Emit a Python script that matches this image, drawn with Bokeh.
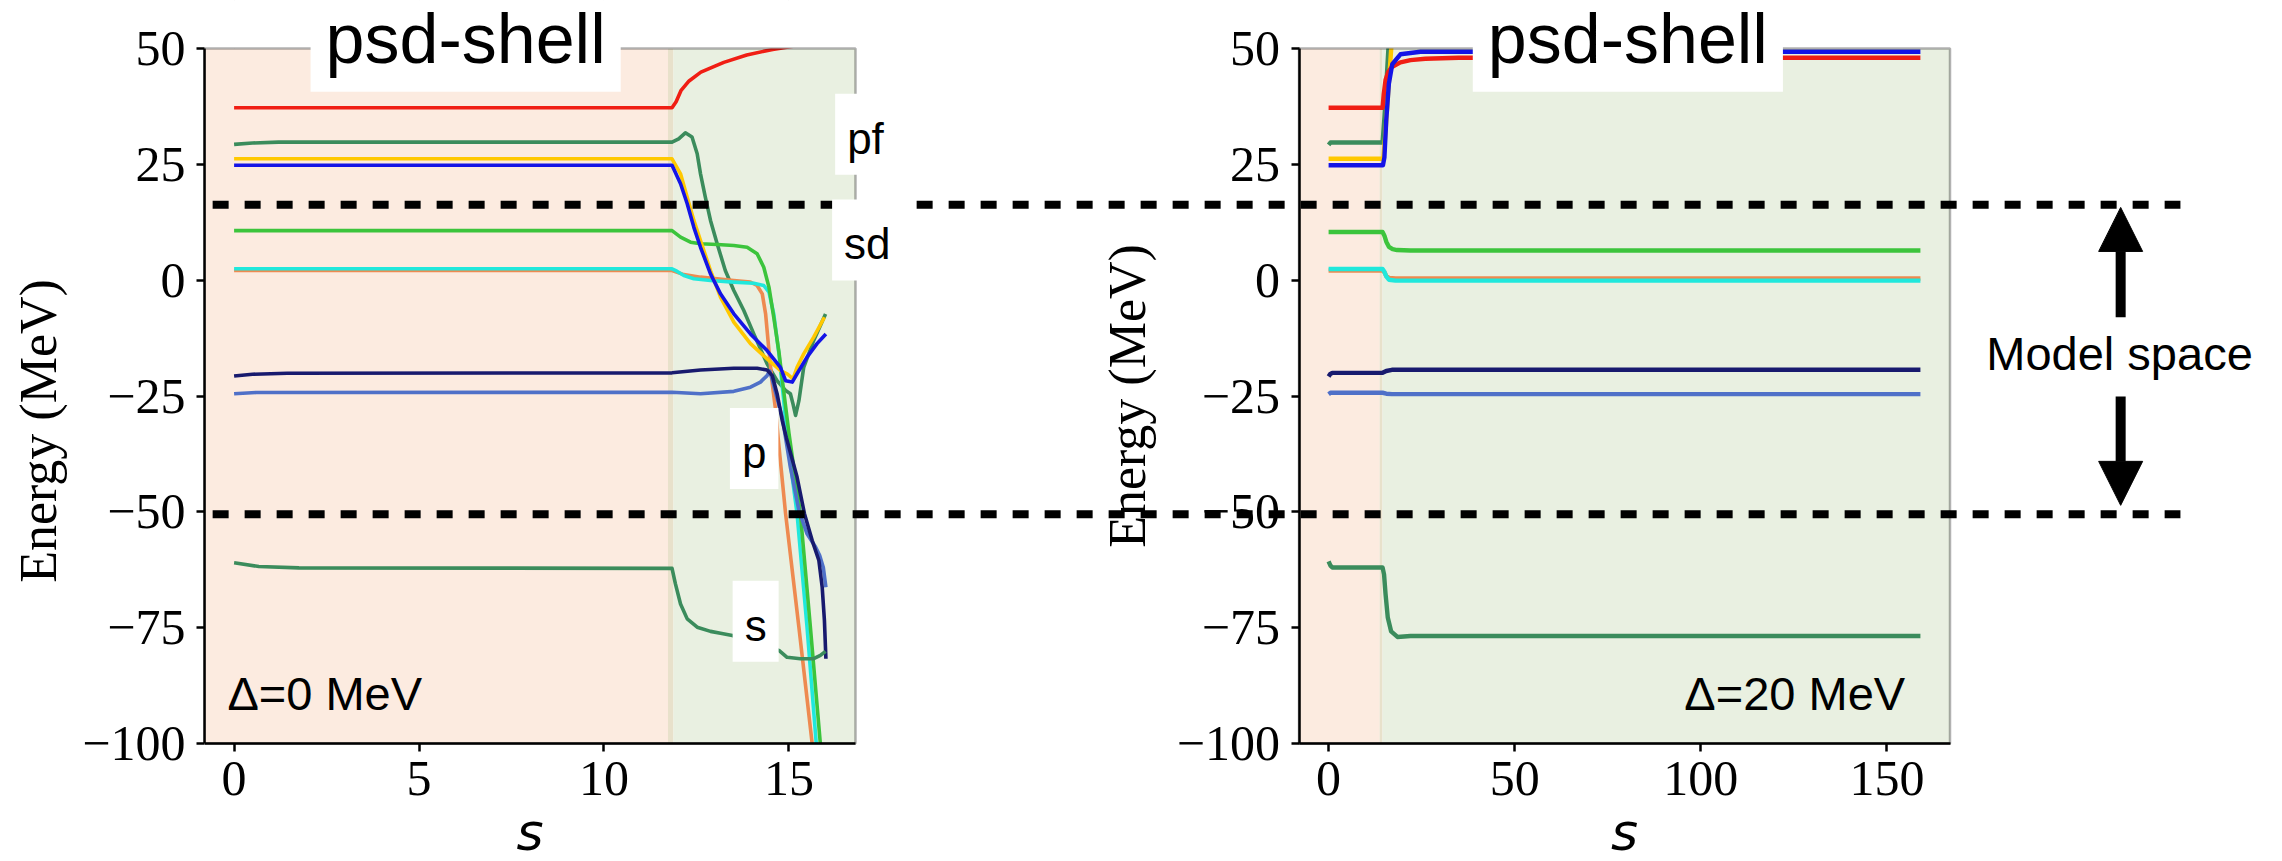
import numpy as np
from bokeh.plotting import figure
from bokeh.models import Range1d, LinearAxis, FixedTicker, BoxAnnotation, Label, Arrow, NormalHead
from bokeh.embed import file_html
from bokeh.resources import INLINE

# ---------------- data : left panel (Delta = 0 MeV) ----------------
L_red_s = [0, 11.84, 11.95, 12.08, 12.3, 12.62, 13.0, 13.24, 13.86, 14.56, 15.2]
L_red_E = [37.2, 37.2, 38.5, 40.9, 43.0, 44.9, 46.2, 47.0, 48.6, 49.8, 50.6]

L_sg1_s = [0, 0.5, 1.2, 11.84, 12.02, 12.20, 12.38, 12.52, 12.61, 12.74, 12.88, 13.06, 13.28, 13.51,
           13.78, 14.05, 14.41, 14.68, 14.91, 15.04, 15.11, 15.18, 15.27, 15.40, 15.67, 15.99]
L_sg1_E = [29.3, 29.6, 29.8, 29.8, 30.5, 31.8, 30.9, 27.3, 22.95, 17.9, 12.9, 7.85, 2.08, -2.23,
           -6.55, -11.6, -18.06, -21.7, -23.8, -24.5, -26.7, -29.2, -26.0, -18.8, -13.0, -7.3]

L_gold_s = [0, 11.84, 12.07, 12.25, 12.43, 12.61, 12.88, 13.15, 13.51, 13.96, 14.41, 14.77, 14.95,
            15.11, 15.22, 15.40, 15.67, 15.96]
L_gold_E = [26.2, 26.2, 22.95, 17.9, 12.9, 8.56, 2.08, -3.68, -9.07, -13.7, -16.97, -19.5, -20.2,
            -21.3, -18.8, -15.9, -12.3, -8.0]

L_blue_s = [0, 11.84, 12.07, 12.25, 12.43, 12.61, 12.88, 13.15, 13.51, 13.96, 14.41, 14.77, 14.91,
            15.09, 15.22, 15.49, 15.76, 16.0]
L_blue_E = [24.8, 24.8, 20.8, 16.5, 11.4, 7.1, 1.36, -2.95, -7.27, -11.6, -15.2, -18.8, -21.7,
            -22.0, -20.2, -16.6, -13.7, -11.6]

L_lime_s = [0, 11.84, 12.07, 12.34, 12.61, 13.06, 13.51, 13.87, 14.14, 14.32, 14.46, 14.59, 14.73,
            14.86, 15.0, 15.15, 15.31, 15.58, 15.85, 16.0]
L_lime_E = [10.7, 10.7, 9.3, 8.2, 7.85, 7.7, 7.48, 7.1, 5.7, 2.8, -1.5, -8.0, -15.5,
            -24.0, -33.0, -41.5, -50.4, -74.9, -100.1, -114.0]

L_cyan_s = [0, 11.84, 11.97, 12.16, 12.43, 12.88, 13.51, 14.05, 14.32, 14.46, 14.59, 14.73, 14.86,
            14.95, 15.22, 15.49, 15.74, 16.0]
L_cyan_E = [2.45, 2.45, 1.94, 1.0, 0.29, -0.07, -0.43, -0.65, -1.15, -2.6, -7.3, -15.9, -26.0,
            -34.0, -50.4, -74.9, -100.1, -124.0]

L_orng_s = [0, 11.84, 12.16, 12.61, 13.51, 13.96, 14.14, 14.28, 14.37, 14.46, 14.55, 14.64, 14.72,
            14.91, 15.27, 15.63, 15.9]
L_orng_E = [2.1, 2.1, 1.2, 0.65, -0.07, -0.43, -1.15, -2.95, -7.3, -15.2, -22.4, -28.0, -35.0,
            -50.4, -74.9, -100.1, -119.0]

L_navy_s = [0, 0.5, 1.44, 11.84, 12.61, 13.51, 14.14, 14.41, 14.55, 14.68, 14.82, 14.93, 15.22,
            15.42, 15.63, 15.81, 15.9, 15.96, 16.0]
L_navy_E = [-20.7, -20.3, -20.1, -20.0, -19.4, -19.0, -19.0, -19.4, -20.6, -24.5, -30.3, -34.0,
            -42.5, -50.4, -56.2, -60.5, -66.3, -73.5, -81.7]

L_royal_s = [0, 0.6, 11.84, 12.61, 13.51, 13.96, 14.23, 14.41, 14.48, 14.55, 14.68, 14.82, 15.04,
             15.27, 15.49, 15.72, 15.83, 15.93, 16.0]
L_royal_E = [-24.5, -24.25, -24.2, -24.5, -24.0, -23.1, -22.0, -20.6, -19.6, -21.5, -25.5, -29.6,
             -40.4, -49.7, -54.75, -57.6, -59.4, -62.0, -66.3]

L_sg2_s = [0, 0.67, 1.75, 11.84, 11.93, 12.07, 12.25, 12.52, 12.88, 13.15, 13.47, 14.1, 14.73,
           14.95, 15.31, 15.67, 15.85, 15.99]
L_sg2_E = [-61.0, -61.8, -62.1, -62.2, -65.5, -69.9, -73.1, -74.9, -75.8, -76.2, -76.7, -78.2,
           -79.9, -81.4, -81.7, -81.7, -81.0, -80.1]

# ---------------- data : right panel (Delta = 20 MeV) ----------------
R_red_s = [0, 14.5, 14.8, 15.3, 16.0, 17.0, 19.3, 22, 26, 35, 159]
R_red_E = [37.2, 37.2, 40.0, 43.2, 44.9, 46.0, 47.0, 47.5, 47.8, 48.0, 48.0]

R_blue_s = [0, 14.6, 15.0, 15.5, 16.2, 17.1, 19.3, 24.7, 35, 159]
R_blue_E = [24.8, 24.8, 26.5, 34.7, 42.4, 46.6, 48.75, 49.3, 49.3, 49.3]

R_sg1_s = [0, 0.5, 14.5, 15.0, 15.5, 16.0, 16.5]
R_sg1_E = [29.2, 29.7, 29.7, 35.0, 42.0, 49.0, 55.0]

R_gold_s = [0, 14.7, 15.2, 15.8, 16.4, 17.0]
R_gold_E = [26.2, 26.2, 31.0, 38.0, 45.0, 52.0]

R_lime_s = [0, 14.5, 15.0, 15.5, 16.2, 17.2, 18.4, 22, 159]
R_lime_E = [10.4, 10.4, 9.6, 8.3, 7.2, 6.7, 6.5, 6.4, 6.4]

R_orng_s = [0, 14.5, 15.0, 15.5, 16.2, 18, 159]
R_orng_E = [2.1, 2.1, 1.7, 0.9, 0.5, 0.35, 0.35]

R_cyan_s = [0, 14.5, 15.0, 15.5, 16.2, 18, 159]
R_cyan_E = [2.4, 2.4, 1.8, 0.8, 0.1, -0.1, -0.1]

R_navy_s = [0, 0.4, 1.0, 14.5, 15.5, 17, 159]
R_navy_E = [-20.8, -20.3, -20.0, -20.0, -19.6, -19.35, -19.35]

R_royal_s = [0, 0.5, 14.5, 15.5, 17, 159]
R_royal_E = [-24.6, -24.3, -24.3, -24.5, -24.6, -24.6]

R_sg2_s = [0, 0.5, 1.0, 14.5, 14.9, 15.3, 15.9, 16.8, 18.5, 22, 159]
R_sg2_E = [-60.7, -61.6, -62.0, -62.0, -63.5, -67.7, -72.8, -75.8, -77.0, -76.8, -76.8]

# shaded regions (end of first stage, start of second stage)
L_stage1_end, L_stage2_start = 11.88, 11.73
R_stage1_end, R_stage2_start = 14.5, 13.7

# model-space boundaries (MeV)
model_space_edges = [16.3, -50.5]

y_ticks = [50, 25, 0, -25, -50, -75, -100]
y_tick_labels = ["50", "25", "0", "\u221225", "\u221250", "\u221275", "\u2212100"]
L_x_ticks = [0, 5, 10, 15]
R_x_ticks = [0, 50, 100, 150]

C_RED, C_SG, C_GOLD, C_BLUE = "#F01E14", "#3B8C5C", "#FFC800", "#1414E6"
C_LIME, C_CYAN, C_ORNG, C_NAVY, C_ROYAL = "#3CC43C", "#20E8DC", "#EE8A50", "#181A6E", "#4F70C8"
C_PEACH, C_TAN, C_GREEN = "#FCEBE0", "#E8E1CB", "#E9F0E1"

L_series = [(L_red_s, L_red_E, C_RED), (L_sg1_s, L_sg1_E, C_SG), (L_orng_s, L_orng_E, C_ORNG),
            (L_cyan_s, L_cyan_E, C_CYAN), (L_lime_s, L_lime_E, C_LIME), (L_gold_s, L_gold_E, C_GOLD),
            (L_blue_s, L_blue_E, C_BLUE), (L_royal_s, L_royal_E, C_ROYAL), (L_navy_s, L_navy_E, C_NAVY),
            (L_sg2_s, L_sg2_E, C_SG)]
R_series = [(R_lime_s, R_lime_E, C_LIME), (R_orng_s, R_orng_E, C_ORNG), (R_cyan_s, R_cyan_E, C_CYAN),
            (R_royal_s, R_royal_E, C_ROYAL), (R_navy_s, R_navy_E, C_NAVY), (R_sg2_s, R_sg2_E, C_SG),
            (R_sg1_s, R_sg1_E, C_SG), (R_gold_s, R_gold_E, C_GOLD), (R_red_s, R_red_E, C_RED),
            (R_blue_s, R_blue_E, C_BLUE)]

# ---------------- layout (pixels) ----------------
W, H = 2282, 861
FL = 204                     # frame (and left panel) left edge
PT, PB = 48, 743             # panels top / bottom
FW = W - FL
LP_L, LP_R = 204.0, 855.0
RP_L, RP_R = 1298.5, 1949.5
Y0, Y1 = -100, 50
ppu_y = (PB - PT) / (Y1 - Y0)
TXT_SHIFT = 0.43             # baseline correction for labels (em)


def extent(series):
    lo = min(min(s) for s, _, _ in series)
    hi = max(max(s) for s, _, _ in series)
    m = 0.05 * (hi - lo)
    return lo - m, hi + m


L_lo, L_hi = extent(L_series)
R_lo, R_hi = extent(R_series)
ppu_L = (LP_R - LP_L) / (L_hi - L_lo)
ppu_R = (RP_R - RP_L) / (R_hi - R_lo)
xL0 = L_lo - (LP_L - FL) / ppu_L
xL1 = xL0 + FW / ppu_L
xR0 = R_lo - (RP_L - FL) / ppu_R
yb, yt = Y0 - (H - PB) / ppu_y, Y1 + PT / ppu_y

p = figure(frame_width=FW, frame_height=H,
           x_range=Range1d(xL0, xL1), y_range=Range1d(yb, yt),
           x_axis_location=None,
           output_backend="svg", toolbar_location=None,
           min_border_left=FL, min_border_right=0, min_border_top=0, min_border_bottom=0)
p.extra_x_ranges = {"right_x": Range1d(xR0, xR0 + FW / ppu_R)}
p.outline_line_color = None
p.ygrid.visible = False
p.background_fill_color = "white"
p.border_fill_color = "white"

# background stages
for rng, lo, e1, s2, hi in [("default", L_lo, L_stage1_end, L_stage2_start, L_hi),
                            ("right_x", R_lo, R_stage1_end, R_stage2_start, R_hi)]:
    p.quad(left=[lo, s2, e1], right=[s2, e1, hi], bottom=Y0, top=Y1,
           fill_color=[C_PEACH, C_TAN, C_GREEN], line_color=None, x_range_name=rng)

for s, e, c in L_series:
    p.line(s, e, line_color=c, line_width=3.6, line_join="round")
for s, e, c in R_series:
    p.line(s, e, line_color=c, line_width=4.4, line_join="round", x_range_name="right_x")

# white masks outside the panels' energy window (axes clip)
p.quad(left=[xL0, xL0], right=[xL1, xL1], bottom=[Y1, yb], top=[yt, Y0],
       fill_color="white", line_color=None)

overrides = {t: l for t, l in zip(y_ticks, y_tick_labels)}


def style(ax, ticks, vertical, label_standoff=11):
    ax.ticker = FixedTicker(ticks=ticks)
    ax.minor_tick_line_color = None
    ax.major_tick_out = 8
    ax.major_tick_in = 0
    ax.major_tick_line_width = 2.5
    ax.major_tick_line_color = "black"
    ax.axis_line_width = 2.5
    ax.axis_line_color = "black"
    ax.major_label_text_font = "Liberation Serif"
    ax.major_label_text_font_size = "50px"
    ax.major_label_text_color = "black"
    if vertical:
        ax.major_label_overrides = overrides
        ax.major_label_standoff = 11
        ax.axis_label = "Energy (MeV)"
        ax.axis_label_text_font = "Liberation Serif"
        ax.axis_label_text_font_size = "52px"
        ax.axis_label_text_font_style = "normal"
        ax.axis_label_text_color = "black"
        ax.axis_label_standoff = label_standoff
    else:
        ax.major_label_standoff = 10


yl = p.yaxis[0]
style(yl, y_ticks, True, 12)
yl.bounds = (Y0, Y1)

xl = LinearAxis(fixed_location=Y0, bounds=(L_lo, L_hi))
style(xl, L_x_ticks, False)
p.add_layout(xl, "below")

yr = LinearAxis(fixed_location=xL0 + (RP_L - FL) / ppu_L, bounds=(Y0, Y1))
style(yr, y_ticks, True, 18)
p.add_layout(yr, "left")
xr = LinearAxis(x_range_name="right_x", fixed_location=Y0, bounds=(R_lo, R_hi))
style(xr, R_x_ticks, False)
p.add_layout(xr, "below")

# spines
for rng, lo, hi in [("default", L_lo, L_hi), ("right_x", R_lo, R_hi)]:
    p.add_layout(BoxAnnotation(left=lo, right=hi, bottom=Y0, top=Y1, fill_color=None,
                               fill_alpha=0, line_color="black", line_width=2.5, x_range_name=rng))

# model space dashed lines
for ym in model_space_edges:
    p.add_layout(Arrow(end=None, x_start=-0.58, y_start=ym, x_end=52.62, y_end=ym,
                       line_color="black", line_width=8, line_dash="16 16"))

# arrows
p.add_layout(Arrow(end=NormalHead(size=44, fill_color="black", line_color="black"),
                   x_start=212.8, y_start=-8.0, x_end=212.8, y_end=15.7,
                   line_width=10, line_color="black", x_range_name="right_x"))
p.add_layout(Arrow(end=NormalHead(size=44, fill_color="black", line_color="black"),
                   x_start=212.8, y_start=-25.1, x_end=212.8, y_end=-48.6,
                   line_width=10, line_color="black", x_range_name="right_x"))


def lab(text, x, y, size, rng="default", align="center", pad=None, font="Liberation Sans",
        style="normal", baseline="alphabetic"):
    kw = dict(background_fill_color="white", padding=pad) if pad is not None else {}
    y_adj = y + TXT_SHIFT * size / ppu_y if baseline == "alphabetic" else y
    p.add_layout(Label(x=x, y=y_adj, text=text, text_font=font, text_font_size=f"{size}px",
                       text_font_style=style, text_align=align, text_baseline=baseline,
                       text_color="black", x_range_name=rng, **kw))


box_pad = dict(left=12, right=12, top=20, bottom=12)
title_pad = dict(left=15, right=15, top=0, bottom=14)
lab("psd-shell", 6.26, 50.6, 70, pad=title_pad, baseline="middle")
lab("psd-shell", 80.4, 50.6, 70, rng="right_x", pad=title_pad, baseline="middle")
lab("pf", 17.07, 27.4, 44, pad=box_pad)
lab("sd", 17.12, 4.6, 44, pad=box_pad)
lab("p", 14.06, -40.4, 44, pad=box_pad)
lab("s", 14.1, -77.7, 44, pad=box_pad)
lab("\u0394=0 MeV", -0.18, -93.5, 47, align="left")
lab("\u0394=20 MeV", 154.9, -93.5, 47, rng="right_x", align="right")
lab("Model space", 212.5, -20.15, 47, rng="right_x")
lab("s", (L_lo + L_hi) / 2, -123.97, 52, font="DejaVu Sans", style="italic")
lab("s", (R_lo + R_hi) / 2, -123.97, 52, rng="right_x", font="DejaVu Sans", style="italic")

open("out.html", "w").write(file_html(p, INLINE))
